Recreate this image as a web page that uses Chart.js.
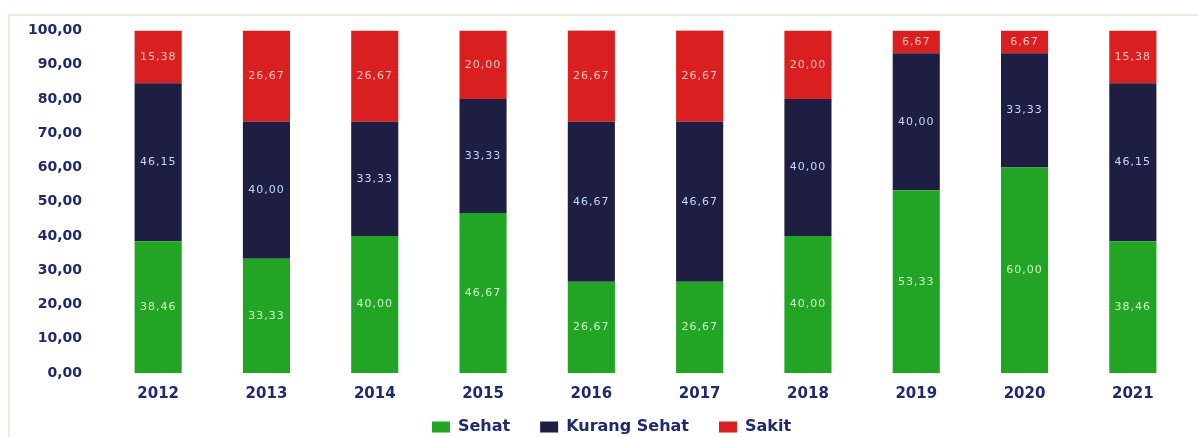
<!DOCTYPE html>
<html>
<head>
<meta charset="utf-8">
<script src="https://cdn.jsdelivr.net/npm/chart.js@4.4.1/dist/chart.umd.min.js"></script>
<style>
  html, body { margin: 0; padding: 0; background: #ffffff; }
  #wrap { position: relative; width: 1198px; height: 437px; overflow: hidden; }
  #frame { position: absolute; left: 8px; top: 14px; width: 1200px; height: 440px; border: 2px solid #e6f0dc; box-sizing: border-box; }
  canvas { position: absolute; left: 0; top: 0; }
</style>
</head>
<body>
<div id="wrap">
  <div id="frame"></div>
  <canvas id="c" width="1198" height="437"></canvas>
</div>
<script>
const categories = ['2012','2013','2014','2015','2016','2017','2018','2019','2020','2021'];
const sehat       = [38.46, 33.33, 40.00, 46.67, 26.67, 26.67, 40.00, 53.33, 60.00, 38.46];
const kurangSehat = [46.15, 40.00, 33.33, 33.33, 46.67, 46.67, 40.00, 40.00, 33.33, 46.15];
const sakit       = [15.38, 26.67, 26.67, 20.00, 26.67, 26.67, 20.00, 6.67, 6.67, 15.38];
const yTicks = [0,10,20,30,40,50,60,70,80,90,100];

const fmt = v => v.toFixed(2).replace('.', ',');
const NAVY = '#1f2a6e';

const labelPlugin = {
  id: 'segLabels',
  afterDatasetsDraw(chart) {
    const ctx = chart.ctx;
    chart.data.datasets.forEach((ds, di) => {
      const meta = chart.getDatasetMeta(di);
      meta.data.forEach((bar, i) => {
        const v = ds.data[i];
        const y = (bar.y + bar.base) / 2;
        ctx.save();
        ctx.font = '11px "DejaVu Sans"';
        try { ctx.letterSpacing = '1px'; } catch (e) {}
        ctx.fillStyle = ds.labelColor;
        ctx.textAlign = 'center';
        ctx.textBaseline = 'middle';
        ctx.fillText(fmt(v), bar.x, y);
        ctx.restore();
      });
    });
  }
};

const legendHeightPlugin = {
  id: 'legendHeight',
  beforeLayout(chart) {
    const lg = chart.legend;
    if (lg && !lg._patched) {
      const orig = lg.fit.bind(lg);
      lg.fit = function () { orig(); this.height = 22; };
      lg._patched = true;
    }
  },
  afterLayout(chart) {
    const lg = chart.legend;
    if (lg) { lg.top -= 26; lg.left += 18; lg.right += 18; }
  }
};

new Chart(document.getElementById('c'), {
  type: 'bar',
  data: {
    labels: categories,
    datasets: [
      { label: 'Sehat', data: sehat, backgroundColor: '#22a524', labelColor: '#cdf5c8' },
      { label: 'Kurang Sehat', data: kurangSehat, backgroundColor: '#1e1d42', labelColor: '#c4d8ff' },
      { label: 'Sakit', data: sakit, backgroundColor: '#d91f20', labelColor: '#ffc4c0' }
    ]
  },
  options: {
    responsive: false,
    animation: false,
    layout: { padding: { top: 22, right: 11, left: 0, bottom: 0 } },
    datasets: { bar: { categoryPercentage: 1.0, barPercentage: 0.435 } },
    scales: {
      x: {
        stacked: true,
        grid: { display: false, drawTicks: false },
        border: { display: false },
        ticks: { color: NAVY, padding: 12, font: { family: 'DejaVu Sans', weight: 'bold', size: 15 } }
      },
      y: {
        stacked: true,
        min: 0, max: 100,
        afterBuildTicks: s => { s.ticks = yTicks.map(v => ({ value: v })); },
        afterFit: s => { s.width = 104; },
        grid: { display: false, drawTicks: false },
        border: { display: false },
        ticks: {
          color: NAVY, padding: 22,
          font: { family: 'DejaVu Sans', weight: 'bold', size: 14 },
          callback: v => fmt(v)
        }
      }
    },
    plugins: {
      tooltip: { enabled: false },
      legend: {
        position: 'bottom',
        labels: {
          color: NAVY,
          font: { family: 'DejaVu Sans', weight: 'bold', size: 16 },
          boxWidth: 18, boxHeight: 11, padding: 30
        }
      }
    }
  },
  plugins: [labelPlugin, legendHeightPlugin]
});
</script>
</body>
</html>
